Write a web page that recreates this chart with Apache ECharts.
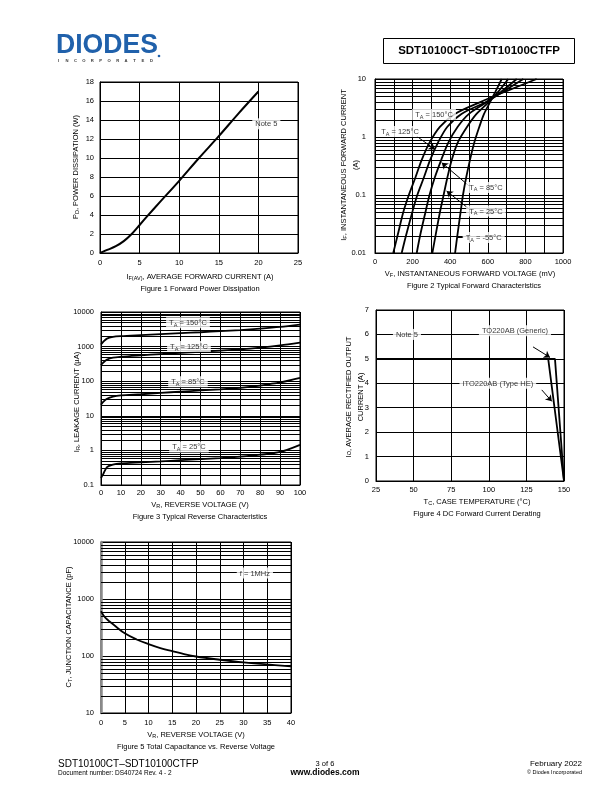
<!DOCTYPE html>
<html><head><meta charset="utf-8">
<script src="https://cdn.jsdelivr.net/npm/echarts@6/dist/echarts.min.js"></script>
<style>html,body{margin:0;padding:0;background:#fff}#c{width:612px;height:792px}</style>
</head><body><div id="c"></div>
<script>
// ---------- DATA ----------
// Figure 1: Forward power dissipation
const fig1Current = [0, 1, 2, 3, 4, 5, 6, 7.5, 10, 12.5, 15, 17.5, 20];
const fig1Power   = [0, 0.35, 0.72, 1.25, 2.0, 2.95, 3.9, 5.3, 7.6, 10.0, 12.3, 14.7, 17.0];

// Figure 2: Typical forward characteristics (current in A, voltage in mV)
const fig2Current  = [0.01, 0.02, 0.05, 0.1, 0.2, 0.4, 0.8, 1.5, 2.5, 4, 6, 10];
const fig2V150     = [97, 120, 150, 180, 215, 248, 290, 345, 425, 560, 690, 860];
const fig2V125     = [142, 165, 198, 225, 260, 293, 335, 385, 460, 590, 680, 789];
const fig2V85      = [222, 240, 268, 290, 318, 352, 390, 440, 500, 595, 670, 754];
const fig2V25      = [305, 322, 345, 365, 385, 408, 440, 490, 540, 605, 655, 709];
const fig2Vm55     = [426, 438, 455, 468, 485, 505, 528, 555, 580, 612, 640, 674];
const fig2XTicks   = [0, 200, 400, 600, 800, 1000];

// Figure 3: Typical reverse characteristics (voltage V, current uA)
const fig3Voltage = [0, 1, 3, 6, 10, 20, 30, 40, 50, 60, 70, 80, 90, 100];
const fig3I150    = [1150, 1350, 1700, 1900, 2000, 2150, 2300, 2450, 2600, 2800, 3000, 3300, 3700, 4300];
const fig3I125    = [290, 340, 420, 480, 510, 560, 610, 660, 710, 770, 830, 930, 1080, 1300];
const fig3I85     = [21, 25, 31, 36, 39, 42, 46, 50, 54, 58, 64, 75, 92, 125];
const fig3I25     = [0.16, 0.2, 0.33, 0.39, 0.42, 0.45, 0.48, 0.52, 0.56, 0.6, 0.66, 0.75, 0.9, 1.45];

// Figure 4: DC forward current derating
const fig4TcGeneric = [25, 144, 150];
const fig4IoGeneric = [5, 5, 0];
const fig4TcHE      = [25, 139.5, 150];
const fig4IoHE      = [5, 5, 0];

// Figure 5: Total capacitance vs reverse voltage
const fig5Voltage = [0, 0.5, 1, 2, 3, 5, 7.5, 10, 12.5, 15, 17.5, 20, 25, 30, 35, 40];
const fig5Cap     = [610, 520, 460, 390, 335, 250, 195, 162, 138, 122, 108, 98, 86, 77, 71, 66];

// ---------- STYLE / LAYOUT ----------
const FF = '"Liberation Sans", Arial, Helvetica, sans-serif';
const RICH = { s: { fontSize: 5.5, fontFamily: FF, verticalAlign: 'bottom', color: '#000' } };
const BLACK = '#000';

const chart = echarts.init(document.getElementById('c'), null, { renderer: 'canvas', width: 612, height: 792 });

function pair(xs, ys) { return xs.map((x, i) => [x, ys[i]]); }

function grid(left, top, width, height) {
  return { left, top, width, height, show: true, borderColor: BLACK, borderWidth: 1, containLabel: false, outerBoundsMode: 'none' };
}
function valAxis(gi, min, max, interval, margin, fmt, extra) {
  return Object.assign({
    type: 'value', gridIndex: gi, min, max, interval,
    axisLine: { show: true, onZero: false, lineStyle: { color: BLACK, width: 1 } },
    axisTick: { show: false },
    axisLabel: { show: true, color: BLACK, fontSize: 7.5, fontFamily: FF, margin, formatter: fmt || (v => String(v)), showMinLabel: true, showMaxLabel: true, hideOverlap: false },
    splitLine: { show: true, lineStyle: { color: BLACK, width: 1 } }
  }, extra || {});
}
function logAxis(gi, min, max, margin, extra) {
  return Object.assign({
    type: 'log', logBase: 10, gridIndex: gi, min, max,
    axisLine: { show: true, onZero: false, lineStyle: { color: BLACK, width: 1 } },
    axisTick: { show: false },
    axisLabel: { show: true, color: BLACK, fontSize: 7.5, fontFamily: FF, margin, formatter: v => String(+Number(v).toPrecision(3)), showMinLabel: true, showMaxLabel: true },
    splitLine: { show: true, lineStyle: { color: BLACK, width: 1 } }
  }, extra || {});
}
function minorValues(decades) {
  const out = [];
  decades.forEach(d => { for (let m = 2; m <= 9; m++) out.push(+(d * m).toPrecision(3)); });
  return out;
}
function minorGrid(idx, values, xmin, xmax) {
  return {
    type: 'custom', xAxisIndex: idx, yAxisIndex: idx, silent: true, z: 1,
    data: values.map(v => [xmin, v]),
    renderItem: (params, api) => {
      const v = api.value(1);
      const a = api.coord([xmin, v]), b = api.coord([xmax, v]);
      const y = Math.round(a[1]) + 0.5;
      return { type: 'line', shape: { x1: a[0], y1: y, x2: b[0], y2: y }, style: { stroke: BLACK, lineWidth: 1 } };
    }
  };
}
function curve(idx, data, smooth, width) {
  return { type: 'line', xAxisIndex: idx, yAxisIndex: idx, data, symbol: 'none', smooth: smooth, z: 3,
    lineStyle: { color: BLACK, width: width || 1.8 }, clip: true };
}
function labels(idx, items, arrows) {
  const s = {
    type: 'scatter', xAxisIndex: idx, yAxisIndex: idx, symbolSize: 1, silent: true, z: 10,
    itemStyle: { color: 'rgba(0,0,0,0)' },
    data: items.map(it => ({ value: [it.x, it.y], label: { formatter: it.text } })),
    label: { show: true, position: 'inside', color: BLACK, fontSize: 7.5, fontFamily: FF, backgroundColor: '#fff', padding: [1, 3, 0, 3], lineHeight: 10, rich: RICH }
  };
  if (arrows) {
    s.markLine = {
      silent: true, symbol: ['none', 'arrow'], symbolSize: 6, animation: false,
      label: { show: false }, lineStyle: { color: BLACK, width: 1, type: 'solid' },
      data: arrows.map(a => [
        { coord: a.from, symbol: 'none' },
        { coord: a.to, symbol: a.head === false ? 'none' : 'arrow' }
      ])
    };
  }
  return s;
}
function gText(x, y, text, o) {
  o = o || {};
  return { type: 'text', x, y, rotation: o.rot || 0, silent: true, z: 20,
    style: { text, fill: o.fill || BLACK, fontSize: o.size || 7.5, fontFamily: o.family || FF, fontWeight: o.weight || 'normal',
      align: o.align || 'center', verticalAlign: 'middle', rich: RICH } };
}

const R90 = Math.PI / 2;
const logoSub = 'INCORPORATED'.split('').map((ch, i) =>
  gText(58.5 + i * 8.45, 60.5, ch, { size: 4.2, weight: 'bold', fill: '#3a3a3a' }));

const option = {
  animation: false,
  backgroundColor: '#fff',
  grid: [
    grid(100, 82, 198, 171),
    grid(375, 79, 188, 174),
    grid(101, 312, 199, 173),
    grid(376, 310, 188, 171),
    grid(101, 542, 190, 171)
  ],
  xAxis: [
    valAxis(0, 0, 25, 5, 6),
    valAxis(1, 0, 1000, 100, 5, v => (fig2XTicks.indexOf(v) >= 0 ? String(v) : '')),
    valAxis(2, 0, 100, 10, 4),
    valAxis(3, 25, 150, 25, 5),
    valAxis(4, 0, 40, 5, 6)
  ],
  yAxis: [
    valAxis(0, 0, 18, 2, 6),
    logAxis(1, 0.01, 10, 9),
    logAxis(2, 0.1, 10000, 7),
    valAxis(3, 0, 7, 1, 7),
    logAxis(4, 10, 10000, 7, { axisLine: { show: true, onZero: false, lineStyle: { color: '#8a8a8a', width: 2.5 } } })
  ],
  series: [
    // Figure 1
    curve(0, pair(fig1Current, fig1Power), 0.3, 2),
    labels(0, [{ x: 21, y: 13.6, text: 'Note 5' }]),

    // Figure 2
    minorGrid(1, minorValues([0.01, 0.1, 1]), 0, 1000),
    curve(1, pair(fig2V150, fig2Current), 0.3),
    curve(1, pair(fig2V125, fig2Current), 0.3),
    curve(1, pair(fig2V85, fig2Current), 0.3),
    curve(1, pair(fig2V25, fig2Current), 0.3),
    curve(1, pair(fig2Vm55, fig2Current), 0.3),
    labels(1, [
      { x: 314, y: 2.44, text: 'T{s|A} = 150°C' },
      { x: 133, y: 1.24, text: 'T{s|A} = 125°C' },
      { x: 590, y: 0.135, text: 'T{s|A} = 85°C' },
      { x: 590, y: 0.053, text: 'T{s|A} = 25°C' },
      { x: 578, y: 0.0185, text: 'T{s|A} = -55°C' }
    ], [
      { from: [222, 1.03], to: [319, 0.61] },
      { from: [502, 0.142], to: [355, 0.36] },
      { from: [505, 0.056], to: [381, 0.117] },
      { from: [438, 0.0185], to: [470, 0.0185], head: false }
    ]),

    // Figure 3
    minorGrid(2, minorValues([0.1, 1, 10, 100, 1000]), 0, 100),
    curve(2, pair(fig3Voltage, fig3I150), 0.3),
    curve(2, pair(fig3Voltage, fig3I125), 0.3),
    curve(2, pair(fig3Voltage, fig3I85), 0.3),
    curve(2, pair(fig3Voltage, fig3I25), 0.3),
    labels(2, [
      { x: 43.7, y: 4900, text: 'T{s|A} = 150°C' },
      { x: 44.2, y: 1000, text: 'T{s|A} = 125°C' },
      { x: 43.7, y: 97, text: 'T{s|A} = 85°C' },
      { x: 44.2, y: 1.26, text: 'T{s|A} = 25°C' }
    ]),

    // Figure 4
    curve(3, pair(fig4TcGeneric, fig4IoGeneric), false, 1.8),
    curve(3, pair(fig4TcHE, fig4IoHE), false, 1.8),
    labels(3, [
      { x: 45.6, y: 6, text: 'Note 5' },
      { x: 117.4, y: 6.15, text: 'TO220AB (Generic)' },
      { x: 106, y: 4, text: 'ITO220AB (Type HE)' }
    ], [
      { from: [129.4, 5.49], to: [140.7, 5.06] },
      { from: [135.2, 3.73], to: [141.9, 3.26] }
    ]),

    // Figure 5
    minorGrid(4, minorValues([10, 100, 1000]), 0, 40),
    curve(4, pair(fig5Voltage, fig5Cap), 0.4),
    labels(4, [{ x: 32.4, y: 2860, text: 'f = 1MHz' }])
  ],
  graphic: [
    // Header
    { type: 'text', x: 56, y: 45, silent: true, scaleX: 0.95,
      style: { text: 'DIODES', fill: '#2061ab', fontSize: 28, fontWeight: 'bold', fontFamily: FF, align: 'left', verticalAlign: 'middle' } },
    ...logoSub,
    { type: 'circle', shape: { cx: 159, cy: 56, r: 1.3 }, silent: true, style: { fill: '#2061ab' } },
    { type: 'rect', shape: { x: 383.5, y: 38.5, width: 191, height: 25 }, silent: true,
      style: { fill: 'none', stroke: BLACK, lineWidth: 1 } },
    gText(479, 51, 'SDT10100CT–SDT10100CTFP', { size: 11.5, weight: 'bold' }),

    // Figure 1 texts
    gText(76, 167, 'P{s|D}, POWER DISSIPATION (W)', { rot: R90 }),
    gText(200, 277, 'I{s|F(AV)}, AVERAGE FORWARD CURRENT (A)'),
    gText(200, 289, 'Figure 1 Forward Power Dissipation'),

    // Figure 2 texts
    gText(344, 165, 'I{s|F}, INSTANTANEOUS FORWARD CURRENT', { rot: R90 }),
    gText(356, 165, '(A)', { rot: R90 }),
    gText(470, 274, 'V{s|F}, INSTANTANEOUS FORWARD VOLTAGE (mV)'),
    gText(474, 286, 'Figure 2 Typical Forward Characteristics'),

    // Figure 3 texts
    gText(77, 402, 'I{s|R}, LEAKAGE CURRENT (µA)', { rot: R90 }),
    gText(200, 505, 'V{s|R}, REVERSE VOLTAGE (V)'),
    gText(200, 517, 'Figure 3 Typical Reverse Characteristics'),

    // Figure 4 texts
    gText(348.5, 397, 'I{s|O}, AVERAGE RECTIFIED OUTPUT', { rot: R90 }),
    gText(360.5, 397, 'CURRENT (A)', { rot: R90 }),
    gText(477, 502, 'T{s|C}, CASE TEMPERATURE (°C)'),
    gText(477, 514, 'Figure 4 DC Forward Current Derating'),

    // Figure 5 texts
    gText(69, 627, 'C{s|T}, JUNCTION CAPACITANCE (pF)', { rot: R90 }),
    gText(196, 735, 'V{s|R}, REVERSE VOLTAGE (V)'),
    gText(196, 747, 'Figure 5 Total Capacitance vs. Reverse Voltage'),

    // Footer
    gText(58, 764, 'SDT10100CT–SDT10100CTFP', { size: 10, align: 'left' }),
    gText(58, 773, 'Document number: DS40724 Rev. 4 - 2', { size: 6.5, align: 'left' }),
    gText(325, 764, '3 of 6', { size: 7.5 }),
    gText(325, 773, 'www.diodes.com', { size: 8.5, weight: 'bold' }),
    gText(582, 764, 'February 2022', { size: 8, align: 'right' }),
    gText(582, 772.5, '© Diodes Incorporated', { size: 5.5, align: 'right' })
  ]
};
chart.setOption(option);
</script>
</body></html>
